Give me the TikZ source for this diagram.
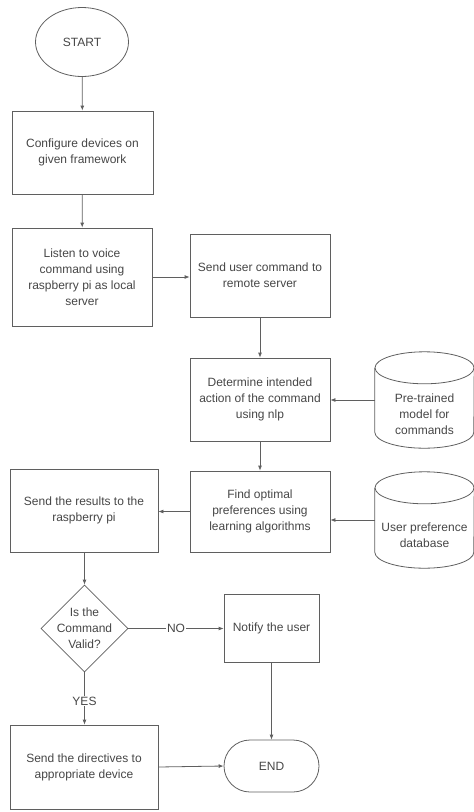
\documentclass[tikz,border=0pt]{standalone}
\usepackage{fontspec}
\setmainfont{Liberation Sans}
\usetikzlibrary{shapes.geometric,shapes.misc,arrows.meta,calc}
\definecolor{ln}{RGB}{95,95,95}
\definecolor{tx}{RGB}{70,70,70}
\begin{document}
\begin{tikzpicture}[x=1pt,y=-1pt,
  base/.style={draw=ln,line width=0.8pt,text=tx,font=\fontsize{12}{16}\selectfont,align=center,inner sep=0pt},
  box/.style={base,rectangle},
  arr/.style={draw=ln,line width=0.8pt,-{Latex[length=5pt,width=4pt]}},
  lbl/.style={fill=white,text=tx,font=\fontsize{12}{16}\selectfont,inner sep=1pt},
  txt/.style={text=tx,font=\fontsize{12}{16}\selectfont,align=center,inner sep=0pt},
  cyl/.style={draw=ln,line width=0.8pt}
]
\useasboundingbox (0,0) rectangle (474,812);
\node[base,ellipse,minimum width=93,minimum height=69] (start) at (82,42) {START};
\node[box,minimum width=141,minimum height=83] (cfg) at (82.5,152.5) {Configure devices on\\given framework};
\node[box,minimum width=140,minimum height=98] (listen) at (82,277) {Listen to voice\\command using\\raspberry pi as local\\server};
\node[box,minimum width=140,minimum height=83] (send) at (260,275.5) {Send user command to\\remote server};
\node[box,minimum width=140,minimum height=83] (det) at (260,399.5) {Determine intended\\action of the command\\using nlp};
\node[box,minimum width=140,minimum height=81] (find) at (260,511.5) {Find optimal\\preferences using\\learning algorithms};
\node[box,minimum width=148,minimum height=83] (res) at (84,510.5) {Send the results to the\\raspberry pi};
\node[base,diamond,aspect=1,minimum width=87,minimum height=87] (valid) at (84.5,628.5) {};
\node[txt] (validt) at (valid.center) {Is the\\Command\\Valid?};
\node[box,minimum width=95,minimum height=68] (notify) at (271.5,628) {Notify the user};
\node[box,minimum width=148,minimum height=84] (dir) at (84,767) {Send the directives to\\appropriate device};
\node[base,rounded rectangle,minimum width=95,minimum height=52] (end) at (271.5,766) {END};
% cylinders
\node[minimum width=99,minimum height=96,inner sep=0pt] (db1) at (424.5,400) {};
\node[minimum width=99,minimum height=96,inner sep=0pt] (db2) at (424.5,520) {};
\foreach \c in {db1,db2}{
  \draw[cyl] ($(\c.north west)+(0,16)$) -- ($(\c.south west)+(0,-16)$)
    arc[start angle=180,end angle=0,x radius=49.5,y radius=16]
    -- ($(\c.north east)+(0,16)$);
  \draw[cyl] ($(\c.north)+(0,16)$) ellipse[x radius=49.5,y radius=16];
}
\node[txt] (db1t) at ($(db1.center)+(0,14)$) {Pre-trained\\model for\\commands};
\node[txt] (db2t) at ($(db2.center)+(0,15)$) {User preference\\database};
% connectors
\draw[arr] (start) -- (cfg);
\draw[arr] (cfg) -- (listen);
\draw[arr] (listen.east) -- (listen.east -| send.west);
\draw[arr] (send) -- (det);
\draw[arr] (db1.west) -- (db1.west -| det.east);
\draw[arr] (det) -- (find);
\draw[arr] (db2.west) -- (db2.west -| find.east);
\draw[arr] (find.west) -- (find.west -| res.east);
\draw[arr] (res.south -| valid.north) -- (valid.north);
\draw[arr] (valid.east) -- node[lbl] {NO} (valid.east -| notify.west);
\draw[arr] (valid.south) -- node[lbl,pos=0.55] {YES} (valid.south |- dir.north);
\draw[arr] (notify.south) -- (end.north);
\draw[arr] (dir.east) -- (end.west);
\end{tikzpicture}
\end{document}
